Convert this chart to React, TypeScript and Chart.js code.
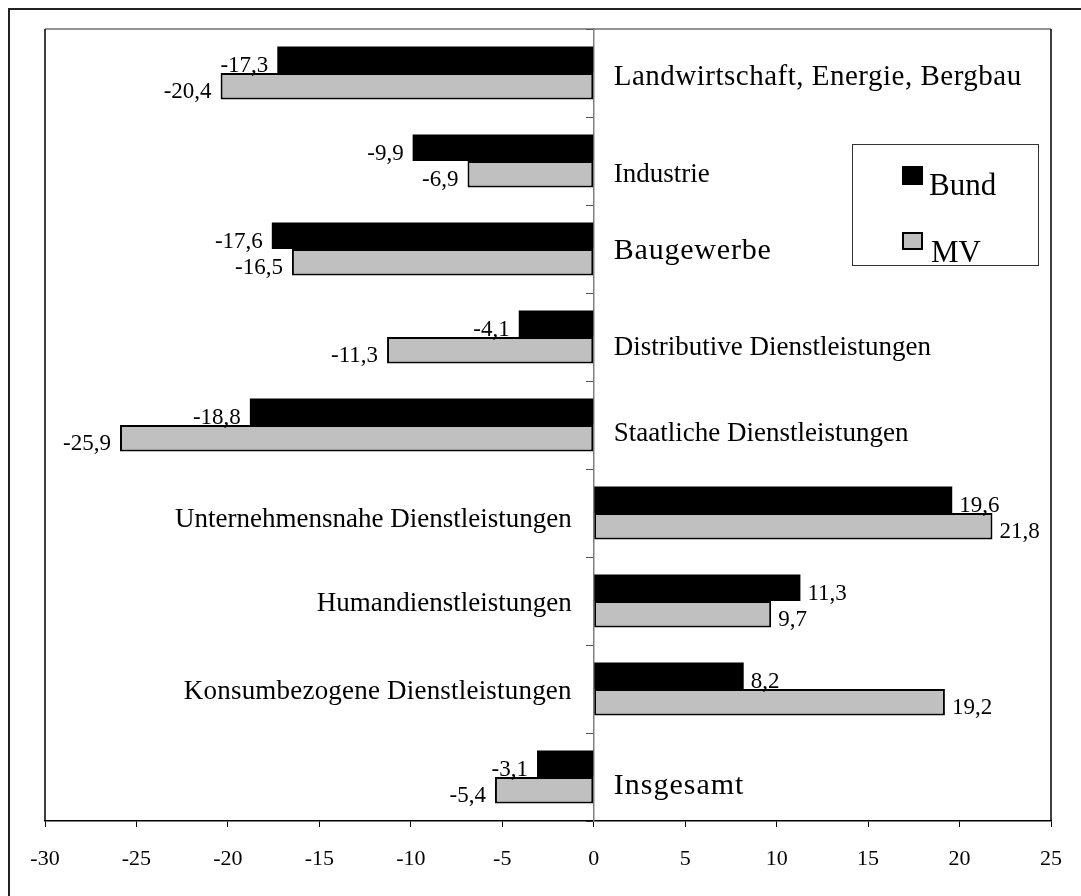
import React, { useEffect, useRef } from "react";
import { Chart, registerables } from "chart.js";

Chart.register(...registerables);

const categories = [
  "Landwirtschaft, Energie, Bergbau",
  "Industrie",
  "Baugewerbe",
  "Distributive Dienstleistungen",
  "Staatliche Dienstleistungen",
  "Unternehmensnahe Dienstleistungen",
  "Humandienstleistungen",
  "Konsumbezogene Dienstleistungen",
  "Insgesamt",
];
const bundValues = [-17.3, -9.9, -17.6, -4.1, -18.8, 19.6, 11.3, 8.2, -3.1];
const mvValues = [-20.4, -6.9, -16.5, -11.3, -25.9, 21.8, 9.7, 19.2, -5.4];
const seriesNames = ["Bund", "MV"];
const xMin = -30;
const xMax = 25;
const xStep = 5;

// label layout (style only): baseline offset from band centre, font size, letter spacing
const labelDy = [12, 21, 10, 18, 16, 14, 10, 10, 17];
const labelSize = [29, 27, 30, 27, 27, 27, 27, 27, 30];
const labelSpacing = [0.5, 0, 0.8, 0, 0, 0, 0, 0.2, 1];

const FONT = "'Liberation Serif', 'Times New Roman', serif";
const W = 1081;
const H = 896;

const fmt = (v: number) => v.toFixed(1).replace(".", ",");

const decorPlugin = {
  id: "decor",
  beforeDraw(chart: any) {
    const ctx = chart.ctx;
    const { left, right, top, bottom } = chart.chartArea;
    ctx.save();
    ctx.fillStyle = "#ffffff";
    ctx.fillRect(0, 0, W, H);
    ctx.strokeStyle = "#222222";
    ctx.lineWidth = 2;
    ctx.beginPath();
    ctx.moveTo(9, H);
    ctx.lineTo(9, 9);
    ctx.lineTo(W, 9);
    ctx.stroke();
    ctx.lineWidth = 1.5;
    ctx.strokeStyle = "#707070";
    ctx.beginPath();
    ctx.moveTo(left, top);
    ctx.lineTo(right, top);
    ctx.stroke();
    ctx.strokeStyle = "#000000";
    ctx.beginPath();
    ctx.moveTo(left, top);
    ctx.lineTo(left, bottom);
    ctx.moveTo(right, top);
    ctx.lineTo(right, bottom);
    ctx.stroke();
    ctx.restore();
  },
  afterDatasetsDraw(chart: any) {
    const ctx = chart.ctx;
    const xs = chart.scales.x;
    const ys = chart.scales.y;
    const zero = xs.getPixelForValue(0);
    ctx.save();
    ctx.fillStyle = "#000000";
    ctx.textBaseline = "alphabetic";
    chart.data.labels.forEach((lab: string, i: number) => {
      const cy = ys.getPixelForValue(i);
      const v0 = chart.data.datasets[0].data[i];
      ctx.font = `${labelSize[i]}px ${FONT}`;
      (ctx as any).letterSpacing = `${labelSpacing[i]}px`;
      if (v0 < 0) {
        ctx.textAlign = "left";
        ctx.fillText(lab, zero + 20, cy + labelDy[i]);
      } else {
        ctx.textAlign = "right";
        ctx.fillText(lab, zero - 22, cy + labelDy[i]);
      }
    });
    (ctx as any).letterSpacing = "0px";
    ctx.font = `23px ${FONT}`;
    chart.data.datasets.forEach((ds: any, di: number) => {
      const meta = chart.getDatasetMeta(di);
      meta.data.forEach((el: any, i: number) => {
        const v = ds.data[i];
        const bottomY = el.y + el.height / 2 - 1;
        if (v < 0) {
          ctx.textAlign = "right";
          ctx.fillText(fmt(v), el.x - 9, bottomY);
        } else {
          ctx.textAlign = "left";
          ctx.fillText(fmt(v), el.x + 7, bottomY);
        }
      });
    });
    const bx = 852, by = 144, bw = 186, bh = 121;
    ctx.strokeStyle = "#333333";
    ctx.lineWidth = 1;
    ctx.strokeRect(bx + 0.5, by + 0.5, bw, bh);
    ctx.font = `31px ${FONT}`;
    ctx.textAlign = "left";
    const items = chart.data.datasets;
    ctx.fillStyle = items[0].backgroundColor;
    ctx.fillRect(902, 166, 21, 19);
    ctx.fillStyle = "#000000";
    ctx.fillText(items[0].label, 929, 195);
    ctx.fillStyle = items[1].backgroundColor;
    ctx.fillRect(902, 232, 21, 18);
    ctx.strokeStyle = "#000000";
    ctx.lineWidth = 2;
    ctx.strokeRect(903, 233, 19, 16);
    ctx.fillStyle = "#000000";
    ctx.fillText(items[1].label, 931, 262);
    ctx.restore();
  },
};

export default function App() {
  const ref = useRef<HTMLCanvasElement>(null);
  useEffect(() => {
    if (!ref.current) return;
    const chart = new Chart(ref.current, {
      type: "bar",
      data: {
        labels: categories,
        datasets: [
          {
            label: seriesNames[0],
            data: bundValues,
            backgroundColor: "#000000",
            borderWidth: 0,
            categoryPercentage: 0.6,
            barPercentage: 1,
          },
          {
            label: seriesNames[1],
            data: mvValues,
            backgroundColor: "#c0c0c0",
            borderColor: "#000000",
            borderWidth: 2,
            borderSkipped: false,
            categoryPercentage: 0.6,
            barPercentage: 1,
          },
        ],
      },
      options: {
        indexAxis: "y",
        responsive: false,
        animation: false,
        devicePixelRatio: 1,
        layout: { padding: { left: 45, right: 14, top: 29, bottom: 0 } },
        plugins: { legend: { display: false }, tooltip: { enabled: false } },
        scales: {
          x: {
            type: "linear",
            min: xMin,
            max: xMax,
            position: "bottom",
            afterFit: (s: any) => {
              s.height = 75;
            },
            ticks: {
              stepSize: xStep,
              color: "#000000",
              font: { family: FONT, size: 22 },
              padding: 19,
              callback: (v: any) => String(v),
            },
            grid: {
              drawOnChartArea: false,
              drawTicks: true,
              tickLength: 6,
              color: "#000000",
            },
            border: { display: true, color: "#000000", width: 1.5 },
          },
          y: {
            type: "category",
            position: { x: 0 } as any,
            offset: true,
            afterFit: (s: any) => {
              s.width = 0;
            },
            ticks: { display: false },
            grid: {
              offset: true,
              drawOnChartArea: false,
              drawTicks: true,
              tickLength: 7,
              color: "#555555",
            },
            border: { display: true, color: "#808080", width: 1.5 },
          },
        },
      },
      plugins: [decorPlugin],
    });
    return () => chart.destroy();
  }, []);
  return (
    <div style={{ position: "absolute", left: 0, top: 0, width: W, height: H }}>
      <canvas ref={ref} width={W} height={H} style={{ width: W, height: H, display: "block" }} />
    </div>
  );
}
